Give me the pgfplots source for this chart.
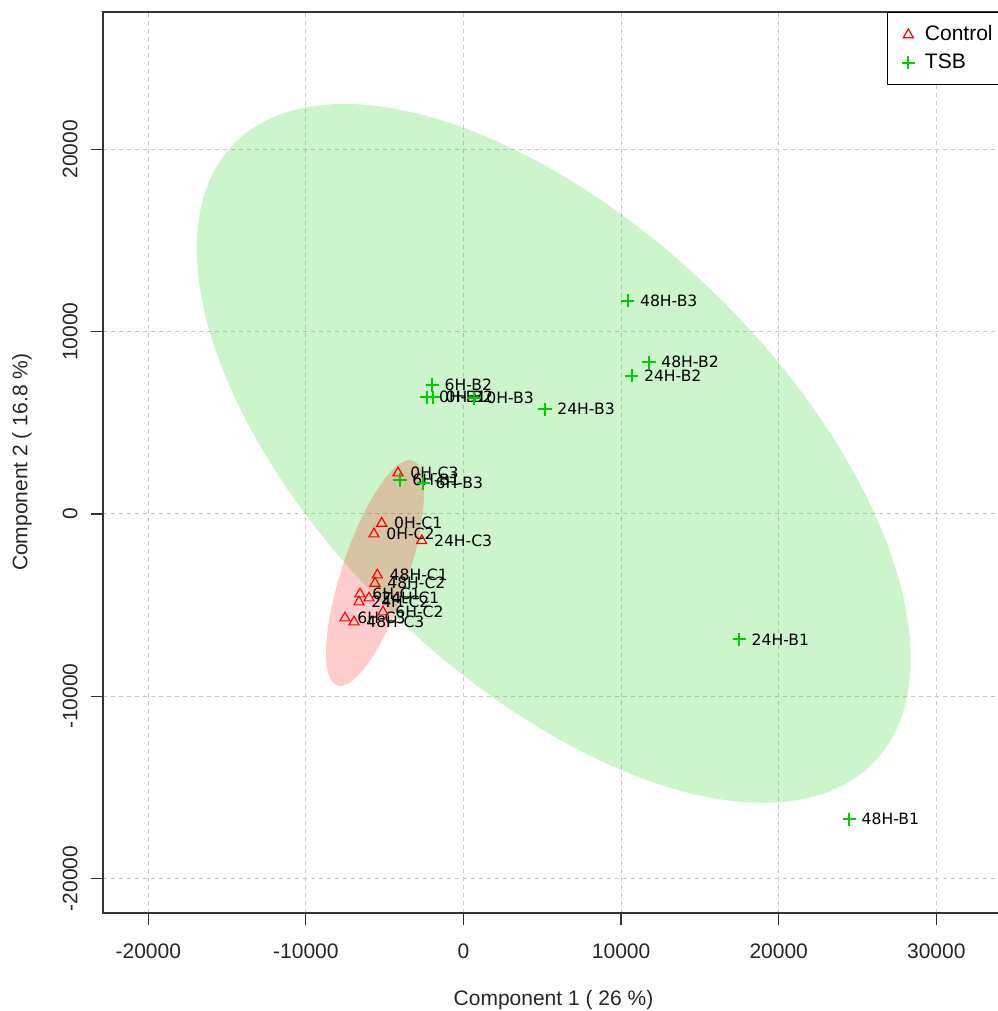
\documentclass[border=0pt]{standalone}
\usepackage{fontspec}
\setmainfont{Liberation Sans}
\newfontfamily\dejavu{DejaVu Sans}
\usepackage{pgfplots}
\pgfplotsset{compat=1.18}
\usepackage{pgfplotstable}
\definecolor{tsbgreen}{RGB}{0,205,0}
\definecolor{ctrlred}{RGB}{255,0,0}

\pgfplotstableread{
x y label
-4156 2249 0H-C3
-5190 -510 0H-C1
-5679 -1097 0H-C2
-2652 -1465 24H-C3
-5470 -3346 48H-C1
-5615 -3803 48H-C2
-6567 -4388 6H-C1
-5996 -4608 24H-C1
-6631 -4827 24H-C2
-5108 -5376 6H-C2
-7519 -5705 6H-C3
-6948 -5924 48H-C3
}\controldata

\pgfplotstableread{
x y label
10419 11700 48H-B3
11770 8321 48H-B2
10673 7587 24H-B2
-1980 7076 6H-B2
-2335 6402 0H-B1
-1916 6402 0H-B2
666 6347 0H-B3
5171 5743 24H-B3
-4029 1865 6H-B1
-2551 1684 6H-B3
17500 -6873 24H-B1
24480 -16747 48H-B1
}\tsbdata

\begin{document}
\begin{tikzpicture}
\begin{axis}[
  scale only axis, width=450.5pt, height=450.35pt,
  xmin=-22874, xmax=34296, ymin=-21871, ymax=27537,
  scaled ticks=false,
  xtick={-20000,-10000,0,10000,20000,30000},
  xticklabels={-20000,-10000,0,10000,20000,30000},
  ytick={-20000,-10000,0,10000,20000},
  yticklabels={-20000,-10000,0,10000,20000},
  tick pos=left, tick align=outside, major tick length=6pt,
  tick style={black!80, line width=0.6pt},
  axis line style={black!80, line width=0.8pt},
  grid=major,
  major grid style={dash pattern=on 2pt off 2pt, black!22, line width=0.5pt},
  ticklabel style={font=\fontsize{10.5}{12}\selectfont, text=black!85},
  xticklabel style={anchor=north, inner sep=0pt},
  xticklabel shift=9.15pt,
  yticklabel style={rotate=90, anchor=south, inner sep=0pt},
  yticklabel shift=6.5pt,
  xlabel={Component 1 ( 26 \%)},
  ylabel={Component 2 ( 16.8 \%)},
  label style={font=\fontsize{10.5}{12}\selectfont, text=black!85},
  xlabel style={at={(axis description cs:0.5,-0.0969)}, anchor=center},
  ylabel style={at={(axis description cs:-0.0899,0.5)}, anchor=center},
  legend style={at={(0.8702,1)}, anchor=north west, draw=black, line width=0.7pt,
    fill=white, font=\fontsize{10.5}{12}\selectfont, inner xsep=7pt, inner ysep=5pt,
    row sep=2pt, nodes={inner sep=1.5pt},
    /tikz/every odd column/.append style={column sep=3.5pt}},
  legend cell align=left,
  legend image code/.code={\draw[mark repeat=2,mark phase=2,#1] plot coordinates {(0pt,0pt)(7pt,0pt)(14pt,0pt)};},
  lbl/.style={forget plot, only marks, mark=none, nodes near coords, point meta=explicit symbolic,
    every node near coord/.append style={anchor=west, inner sep=0pt, xshift=6pt,
    font=\dejavu\fontsize{7.8}{9}\selectfont, text=black, color=black}},
]
\coordinate (bl) at (rel axis cs:0,0);
\coordinate (tl) at (rel axis cs:0,1);

\addplot[draw=none, fill=tsbgreen, fill opacity=0.2, smooth cycle, tension=0.6, forget plot] coordinates {
(28375,-7921) (27603,-11556) (25340,-14176) (21740,-15604) (17049,-15743) (11585,-14581)
(5723,-12200) (-139,-8761) (-5603,-4497) (-10294,298) (-13894,5300) (-16157,10168)
(-16929,14569) (-16157,18204) (-13894,20824) (-10294,22252) (-5603,22391) (-139,21229)
(5723,18848) (11585,15409) (17049,11145) (21740,6350) (25340,1348) (27603,-3520)
};

\addplot[draw=none, fill=ctrlred, fill opacity=0.2, smooth cycle, tension=0.6, forget plot] coordinates {
(-2507,1152) (-2613,-131) (-2924,-1625) (-3418,-3228) (-4061,-4832) (-4811,-6328)
(-5616,-7613) (-6421,-8600) (-7171,-9220) (-7814,-9434) (-8308,-9225) (-8619,-8607)
(-8725,-7624) (-8619,-6341) (-8308,-4847) (-7814,-3244) (-7171,-1640) (-6421,-144)
(-5616,1141) (-4811,2128) (-4061,2748) (-3418,2962) (-2924,2753) (-2613,2135)
};

\addplot[lbl] table[x=x, y=y, meta=label]{\controldata};
\addplot[lbl] table[x=x, y=y, meta=label]{\tsbdata};

\addplot[only marks, mark=triangle, mark size=2.9pt, color=ctrlred,
  mark options={draw=ctrlred, line width=0.6pt}]
  table[x=x, y=y]{\controldata};
\addlegendentry{Control}

\addplot[only marks, mark=+, mark size=3.3pt, color=tsbgreen,
  mark options={draw=tsbgreen, line width=0.9pt}]
  table[x=x, y=y]{\tsbdata};
\addlegendentry{TSB}
\end{axis}
\pgfresetboundingbox
\path[use as bounding box] ([shift={(-51.5pt,-49.15pt)}]bl) rectangle ([shift={(447pt,6pt)}]tl);
\end{tikzpicture}
\end{document}
